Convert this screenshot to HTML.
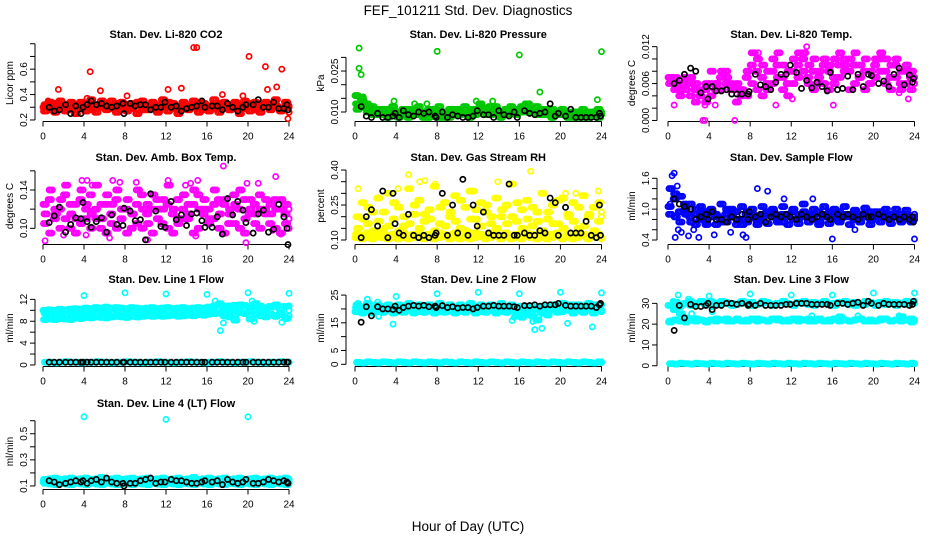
<!DOCTYPE html>
<html><head><meta charset="utf-8">
<style>
html,body{margin:0;padding:0;background:#fff;}
svg{display:block;font-family:"Liberation Sans",sans-serif;}
</style></head>
<body>
<svg id="chart" width="936" height="540" viewBox="0 0 936 540" xmlns="http://www.w3.org/2000/svg">
<rect width="936" height="540" fill="#fff"/>
<text x="468" y="15" font-size="13.5" text-anchor="middle">FEF_101211  Std. Dev. Diagnostics</text>
<text x="468" y="531" font-size="13.5" text-anchor="middle">Hour of Day (UTC)</text>
</svg>
<script>
// ---- data ----
const blackHours=[0.6,1.1,1.6,2.2,2.7,3.2,3.7,3.9,4.3,4.7,5.2,5.7,6.2,6.7,7.2,7.8,7.9,8.5,9.0,9.5,10.0,10.5,11.0,11.5,11.9,12.5,13.0,13.5,14.0,14.5,15.0,15.5,15.8,16.5,17.0,17.5,18.0,18.5,19.0,19.5,19.8,20.5,21.0,21.5,22.0,22.5,23.0,23.5,23.8,23.9];

const co2A=[0.30,0.31,0.29,0.32,0.30,0.28,0.31,0.33,0.30,0.29,0.31,0.30,0.32,0.29,0.30,0.31,0.28,0.30,0.32,0.31,0.29,0.30,0.31,0.33,0.30,0.29,0.30,0.32,0.31,0.30,0.29,0.31,0.30,0.32,0.30,0.29,0.31,0.30,0.28,0.31,0.32,0.30,0.29,0.31,0.30,0.32,0.29,0.30,0.31];
const co2B=[0.27,0.34,0.26,0.35,0.27,0.33,0.25,0.34,0.27,0.36,0.26,0.33,0.28,0.35,0.26,0.34,0.27,0.33,0.25,0.35,0.28,0.34,0.26,0.36,0.27,0.33,0.25,0.34,0.28,0.35,0.26,0.33,0.27,0.36,0.26,0.34,0.28,0.33,0.25,0.35,0.27,0.34,0.26,0.33,0.28,0.36,0.27,0.34,0.26];
const co2C=[0.32,0.28,0.33,0.29,0.31,0.34,0.28,0.30,0.33,0.28,0.32,0.35,0.29,0.31,0.33,0.28,0.32,0.29,0.34,0.28,0.31,0.33,0.28,0.30,0.34,0.31,0.28,0.33,0.29,0.32,0.34,0.28,0.31,0.29,0.33,0.30,0.28,0.34,0.31,0.29,0.33,0.28,0.32,0.34,0.29,0.31,0.28,0.33,0.30];
const co2OutH=[1.5,4.6,5.6,14.7,15.0,20.1,21.7,21.9,22.8,23.3,23.9,8.2,12.2,13.5,17.5,19.5,0.5,4.3];
const co2OutV=[0.44,0.58,0.43,0.77,0.77,0.70,0.62,0.44,0.46,0.60,0.21,0.39,0.44,0.45,0.40,0.39,0.35,0.37];
const co2Black=[0.30,0.27,0.28,0.32,0.25,0.31,0.25,0.30,0.32,0.35,0.32,0.33,0.31,0.30,0.31,0.33,0.25,0.33,0.31,0.32,0.32,0.28,0.30,0.30,0.34,0.30,0.31,0.27,0.29,0.30,0.31,0.35,0.30,0.31,0.31,0.28,0.33,0.30,0.27,0.30,0.32,0.32,0.36,0.30,0.30,0.34,0.29,0.29,0.32,0.28];

const presA=[0.016,0.015,0.013,0.011,0.010,0.009,0.010,0.009,0.010,0.009,0.011,0.009,0.010,0.009,0.008,0.010,0.009,0.008,0.010,0.009,0.011,0.010,0.009,0.010,0.011,0.010,0.012,0.010,0.009,0.010,0.011,0.010,0.010,0.011,0.012,0.010,0.011,0.010,0.009,0.010,0.009,0.010,0.009,0.008,0.009,0.010,0.009,0.010,0.009];
const presB=[0.013,0.012,0.011,0.012,0.009,0.011,0.008,0.012,0.009,0.011,0.008,0.010,0.012,0.008,0.011,0.009,0.012,0.010,0.008,0.011,0.009,0.012,0.008,0.011,0.013,0.009,0.010,0.012,0.008,0.011,0.012,0.009,0.011,0.013,0.010,0.012,0.009,0.011,0.008,0.010,0.011,0.009,0.008,0.010,0.011,0.008,0.009,0.011,0.010];
const presC=[0.011,0.014,0.010,0.009,0.011,0.010,0.011,0.010,0.008,0.010,0.009,0.011,0.009,0.010,0.009,0.011,0.008,0.009,0.011,0.010,0.009,0.010,0.011,0.009,0.012,0.011,0.009,0.011,0.010,0.009,0.010,0.011,0.012,0.010,0.011,0.009,0.010,0.009,0.011,0.009,0.010,0.008,0.010,0.009,0.008,0.009,0.010,0.008,0.009];
const presOutH=[0.4,8.0,16.0,24.0,0.4,0.6,3.8,5.8,7.0,13.4,18.0,23.6,11.8,17.0,0.2,0.8];
const presOutV=[0.0334,0.0322,0.0309,0.0321,0.026,0.0237,0.014,0.013,0.013,0.014,0.0173,0.0145,0.014,0.013,0.016,0.0155];
const presBlack=[0.012,0.0085,0.008,0.0095,0.008,0.008,0.0085,0.0095,0.008,0.0105,0.009,0.0085,0.010,0.0095,0.010,0.0085,0.008,0.010,0.008,0.009,0.0085,0.008,0.008,0.0085,0.0105,0.009,0.009,0.008,0.0105,0.009,0.0085,0.010,0.008,0.0105,0.0095,0.009,0.0095,0.010,0.013,0.0085,0.0095,0.0085,0.011,0.008,0.008,0.008,0.008,0.008,0.0095,0.0085];

const tempA=[0.007,0.006,0.005,0.007,0.006,0.005,0.004,0.005,0.006,0.005,0.007,0.008,0.006,0.005,0.004,0.007,0.009,0.008,0.007,0.006,0.008,0.009,0.007,0.006,0.008,0.009,0.010,0.007,0.008,0.006,0.009,0.008,0.007,0.009,0.010,0.008,0.009,0.007,0.008,0.006,0.009,0.010,0.008,0.007,0.009,0.006,0.008,0.007,0.007];
const tempB=[0.006,0.005,0.004,0.006,0.004,0.003,0.005,0.003,0.004,0.006,0.005,0.006,0.005,0.003,0.005,0.004,0.006,0.005,0.004,0.005,0.006,0.007,0.005,0.004,0.006,0.007,0.008,0.006,0.005,0.007,0.006,0.005,0.006,0.007,0.008,0.005,0.006,0.007,0.005,0.006,0.007,0.008,0.006,0.005,0.007,0.005,0.006,0.005,0.006];
const tempC=[0.007,0.007,0.006,0.005,0.007,0.006,0.005,0.006,0.008,0.006,0.008,0.007,0.005,0.006,0.005,0.008,0.011,0.010,0.009,0.008,0.010,0.011,0.009,0.008,0.010,0.011,0.011,0.009,0.010,0.008,0.010,0.009,0.010,0.011,0.009,0.010,0.011,0.009,0.010,0.008,0.010,0.011,0.010,0.009,0.010,0.008,0.009,0.008,0.007];
const tempOutH=[3.4,3.6,6.5,0.6,3.6,4.6,10.5,12.1,16.1,23.4,22.5,13.5,8.5,8.8];
const tempOutV=[0,0,0,0.0025,0.0025,0.0025,0.0025,0.0035,0.0025,0.0035,0.0045,0.012,0.011,0.011];
const tempBlack=[0.006,0.0065,0.0075,0.0085,0.008,0.0045,0.0055,0.0035,0.0055,0.0048,0.0048,0.005,0.0043,0.0043,0.0043,0.0043,0.0047,0.0075,0.0058,0.0055,0.0050,0.0062,0.0075,0.0075,0.009,0.0078,0.0052,0.0065,0.0053,0.0062,0.0055,0.0048,0.0078,0.005,0.0052,0.0072,0.005,0.0075,0.0055,0.0075,0.0073,0.006,0.0064,0.0055,0.0075,0.0085,0.0058,0.0074,0.0062,0.0068];

const boxA=[0.125,0.13,0.11,0.12,0.135,0.10,0.125,0.13,0.11,0.135,0.12,0.10,0.125,0.115,0.13,0.11,0.12,0.10,0.125,0.135,0.115,0.12,0.13,0.105,0.125,0.115,0.13,0.12,0.11,0.125,0.135,0.115,0.12,0.11,0.13,0.125,0.105,0.135,0.12,0.13,0.115,0.125,0.135,0.12,0.105,0.13,0.12,0.115,0.11];
const boxB=[0.105,0.095,0.12,0.10,0.11,0.125,0.095,0.105,0.12,0.10,0.11,0.125,0.095,0.105,0.10,0.12,0.095,0.115,0.105,0.10,0.125,0.095,0.11,0.12,0.10,0.095,0.105,0.11,0.125,0.095,0.10,0.12,0.105,0.125,0.10,0.095,0.115,0.105,0.10,0.095,0.12,0.105,0.10,0.115,0.125,0.10,0.095,0.105,0.10];
const boxC=[0.115,0.14,0.115,0.13,0.145,0.115,0.11,0.14,0.125,0.115,0.145,0.11,0.135,0.125,0.14,0.12,0.13,0.115,0.14,0.12,0.105,0.135,0.12,0.13,0.145,0.12,0.11,0.135,0.115,0.14,0.12,0.13,0.11,0.14,0.115,0.13,0.12,0.125,0.14,0.11,0.13,0.115,0.12,0.13,0.115,0.12,0.13,0.125,0.12];
const boxOutH=[3.8,4.3,4.8,6.8,7.5,9.1,12.2,13.9,14.4,15.1,17.6,19.9,21.0,22.7,0.2,2.0,4.2,6.5,10.2,14.9,19.8,22.4,23.2,24.0];
const boxOutV=[0.15,0.15,0.145,0.15,0.148,0.148,0.15,0.145,0.147,0.150,0.165,0.147,0.147,0.154,0.087,0.093,0.093,0.09,0.088,0.092,0.085,0.098,0.094,0.10];
const boxBlack=[0.106,0.113,0.122,0.096,0.104,0.111,0.110,0.127,0.107,0.101,0.107,0.111,0.096,0.114,0.104,0.103,0.121,0.118,0.108,0.109,0.088,0.136,0.118,0.102,0.101,0.128,0.109,0.114,0.103,0.115,0.116,0.108,0.101,0.101,0.112,0.094,0.131,0.114,0.128,0.119,0.106,0.095,0.115,0.119,0.096,0.099,0.125,0.112,0.100,0.083];

const rhA=[0.11,0.12,0.11,0.12,0.115,0.11,0.12,0.11,0.125,0.11,0.12,0.11,0.115,0.12,0.11,0.12,0.11,0.115,0.12,0.11,0.125,0.11,0.12,0.11,0.115,0.12,0.11,0.12,0.11,0.115,0.12,0.11,0.12,0.115,0.11,0.12,0.11,0.125,0.11,0.12,0.11,0.115,0.12,0.11,0.12,0.11,0.115,0.12,0.11];
const rhB=[0.125,0.105,0.13,0.105,0.125,0.13,0.105,0.125,0.105,0.13,0.105,0.125,0.13,0.105,0.125,0.105,0.13,0.125,0.105,0.13,0.105,0.125,0.105,0.13,0.125,0.105,0.13,0.125,0.105,0.13,0.105,0.125,0.105,0.13,0.125,0.105,0.13,0.105,0.125,0.13,0.105,0.125,0.105,0.13,0.125,0.105,0.13,0.125,0.105];
const rhC=[0.20,0.26,0.17,0.22,0.28,0.15,0.30,0.19,0.24,0.16,0.32,0.21,0.27,0.18,0.23,0.33,0.17,0.26,0.20,0.29,0.15,0.24,0.31,0.19,0.26,0.22,0.17,0.28,0.20,0.25,0.34,0.18,0.23,0.27,0.16,0.22,0.30,0.19,0.25,0.17,0.28,0.21,0.26,0.15,0.29,0.20,0.24,0.18,0.22];
const rhD=[0.15,0.19,0.24,0.14,0.18,0.22,0.16,0.26,0.14,0.20,0.17,0.25,0.15,0.21,0.19,0.14,0.24,0.16,0.22,0.18,0.27,0.14,0.19,0.23,0.16,0.25,0.20,0.15,0.23,0.17,0.20,0.26,0.15,0.19,0.24,0.18,0.14,0.22,0.17,0.27,0.15,0.20,0.18,0.24,0.16,0.21,0.14,0.26,0.20];
const rhOutH=[0.3,4.2,5.2,6.3,6.8,7.8,11.6,13.9,17.1,23.7,20.5,21.5];
const rhOutV=[0.32,0.32,0.38,0.35,0.355,0.34,0.31,0.35,0.395,0.31,0.30,0.30];
const rhBlack=[0.11,0.20,0.23,0.16,0.31,0.11,0.30,0.17,0.13,0.12,0.21,0.12,0.11,0.12,0.11,0.12,0.13,0.30,0.12,0.25,0.13,0.36,0.12,0.25,0.16,0.22,0.13,0.12,0.12,0.12,0.34,0.12,0.12,0.13,0.12,0.12,0.14,0.13,0.28,0.26,0.12,0.24,0.13,0.13,0.13,0.18,0.12,0.11,0.25,0.12];

const flowA=[1.05,1.2,0.95,1.1,0.85,0.9,0.8,0.95,0.85,0.9,0.8,0.9,0.85,0.95,0.8,0.9,0.85,0.8,0.9,0.95,0.85,0.8,0.9,0.85,0.95,0.8,0.85,0.9,0.8,0.95,0.85,0.9,0.8,0.95,0.85,0.9,0.8,0.85,0.9,0.95,0.8,0.85,0.9,0.8,0.85,0.9,0.8,0.85,0.9];
const flowB=[0.9,1.3,0.75,1.0,1.1,0.7,1.05,0.75,1.0,0.7,1.1,0.75,1.0,0.7,1.05,0.75,1.0,0.7,1.05,0.72,1.0,0.75,1.05,0.7,1.0,0.72,1.1,0.75,1.0,0.7,1.05,0.72,1.0,0.75,1.05,0.7,0.98,0.75,1.02,0.7,0.95,0.75,1.0,0.72,1.0,0.75,0.98,0.75,0.8];
const flowC=[1.4,0.85,1.25,0.9,0.75,1.0,0.9,0.7,0.95,0.85,0.75,1.0,0.9,0.8,0.7,0.95,0.9,0.75,0.85,0.9,0.95,0.85,0.75,0.9,0.8,0.9,0.95,0.85,0.9,0.75,0.9,0.95,0.85,0.8,0.9,0.85,0.95,0.9,0.85,0.8,0.9,0.95,0.85,0.9,0.85,0.8,0.9,0.85,0.85];
const flowOutH=[0.4,0.6,1.0,1.3,0.7,2.0,3.0,2.5,4.5,6.1,7.3,8.7,9.7,16.0,24.0,11.3,14.1,18.2,7.6,0.2,0.9];
const flowOutV=[1.65,1.7,0.6,0.55,0.45,0.48,0.45,0.6,0.5,0.55,0.5,1.4,1.35,0.42,0.42,1.2,1.2,0.6,0.45,1.1,1.45];
const flowBlack=[1.2,1.1,1.05,1.0,0.8,0.85,0.9,0.8,0.95,0.8,0.8,0.75,0.85,0.8,0.9,0.8,0.95,0.85,0.9,0.75,0.85,0.9,0.85,0.9,0.85,0.8,0.9,0.85,0.8,0.85,0.9,0.85,0.8,0.9,0.85,0.9,0.85,0.8,0.9,0.85,0.85,0.9,0.85,0.8,0.85,0.8,0.85,0.8,0.85,0.75];

const l1A=[10.0,10.1,10.0,10.2,10.1,10.2,10.3,10.2,10.4,10.3,10.5,10.4,10.6,10.4,10.5,10.4,10.3,10.5,10.4,10.3,10.4,10.5,10.3,10.4,10.5,10.3,10.4,10.5,10.3,10.4,10.5,10.4,10.6,10.5,11.0,10.2,10.8,10.9,10.4,10.9,10.5,10.6,10.8,10.3,10.7,10.9,10.3,10.7,10.8];
const l1B=[8.3,8.4,8.3,8.5,8.4,8.3,8.6,8.5,8.7,8.6,8.8,8.7,8.6,8.8,8.9,8.8,8.7,8.9,8.8,8.9,9.0,8.9,9.0,8.9,9.0,9.1,8.9,9.0,9.1,9.0,9.2,9.1,9.3,9.4,9.5,9.0,8.8,9.3,9.6,9.4,9.8,9.2,9.0,9.5,9.3,8.9,9.4,8.6,9.0];
const l1C=[9.5,9.0,9.6,8.9,9.2,9.7,9.1,9.4,9.8,9.2,9.5,9.9,9.3,9.6,9.1,9.7,9.4,9.9,9.2,9.6,9.3,9.8,9.5,9.4,9.7,9.3,9.6,9.9,9.4,9.7,9.3,9.8,10.5,10.8,11.2,9.8,10.2,8.2,11.0,9.5,8.4,11.2,9.7,8.8,10.6,11.0,9.2,8.5,10.0];
const l1D=[0.5,0.5,0.4,0.5,0.6,0.5,0.5,0.4,0.5,0.5,0.6,0.5,0.5,0.4,0.5,0.5,0.6,0.5,0.5,0.4,0.5,0.5,0.6,0.5,0.5,0.4,0.5,0.5,0.6,0.5,0.5,0.4,0.5,0.5,0.6,0.5,0.5,0.4,0.5,0.5,0.6,0.5,0.5,0.4,0.5,0.5,0.6,0.5,0.5];
const l1OutH=[4,8,12,16,20,24,17.3,17.6,20.6,23.3,16.8,20.4];
const l1OutV=[12.7,13.2,13.0,12.9,13.2,13.1,6.3,7.7,8.0,7.8,11.7,11.7];
const l1Black=[0.5,0.5,0.5,0.5,0.5,0.5,0.5,0.5,0.5,0.5,0.5,0.5,0.5,0.5,0.5,0.5,0.5,0.5,0.5,0.5,0.5,0.5,0.5,0.5,0.5,0.5,0.5,0.5,0.5,0.5,0.5,0.5,0.5,0.5,0.5,0.5,0.5,0.5,0.5,0.5,0.5,0.5,0.5,0.5,0.5,0.5,0.5,0.5,0.5,0.5];

const l2A=[19,20.5,19.5,20,19,20.5,19.5,20,19,20.5,19.5,20,19,20.5,19.5,20,19,20.5,19.5,20,19,20.5,19.5,20,19,20.5,19.5,20,19,20.5,19.5,20,19,20.5,18.5,20,19,20.5,19.5,20,19,20.5,19.5,20,19,20.5,19.5,20,19.5];
const l2B=[20.5,19,21,19.5,21,19.5,21,20,21,19.5,21,20,21,19.5,21,20,21,19.5,21,20,21,19.5,21,20,21,19.5,21.5,20,21,19.5,21,20,21,19.5,21,20,21,19.5,21.5,20,21,19.5,21.5,20,21,20,21.5,20,21.5];
const l2C=[21.5,18.5,22,18.5,21.5,18.8,21.5,18.5,21.5,18.8,22,18.5,21.5,18.8,21.5,18.5,22,18.8,21.5,18.5,21.5,18.8,22,18.5,21.5,18.8,21.5,18.5,22,18.8,21.5,17.5,17,18.5,17.5,16,18.5,17.8,21.5,18.8,22,21.5,18.5,21.5,18.8,22,18.5,21.5,19];
const l2D=[0.7,0.5,0.9,0.7,0.5,0.9,0.7,0.5,0.9,0.7,0.5,0.9,0.7,0.5,0.9,0.7,0.5,0.9,0.7,0.5,0.9,0.7,0.5,0.9,0.7,0.5,0.9,0.7,0.5,0.9,0.7,0.5,0.9,0.7,0.5,0.9,0.7,0.5,0.9,0.7,0.5,0.9,0.7,0.5,0.9,0.7,0.5,0.9,0.7];
const l2OutH=[0.3,1.2,2.2,2.3,3.7,4,8,12,16,20,24,15.3,15.5,17.3,17.5,18.2,17.9,20.7,23.1];
const l2OutV=[22,23.5,22.5,17.3,14.5,24.5,25.5,26,25.5,26,25.8,15.8,17,15.5,12.5,13,17,14.8,13.5];
const l2Black=[15.2,20.8,17.5,20.8,20,20,19.8,21,19.5,20.5,21,21.3,21,21.3,20.8,21,20.5,21.2,20.5,20.8,20.3,20.5,20.5,20,20.5,21,21,21.3,21,21,21,20.8,20.5,21.2,21.2,21.5,21,21.5,21.5,21.5,22,21.3,21,21,21,21,21,20.5,21.5,22];

const l3A=[29,27,28.5,30,31,29.5,30.5,29.5,31,30,29.5,30.5,30,29.5,30.5,30,30.5,29.5,30,30.5,29.5,30,30.5,30,29.5,30.5,30,29.5,30.5,30,30.5,29.5,30,30.5,30,29.5,30.5,30,29.5,30.5,30,30.5,29.5,30,30.5,30,29.5,30.5,30];
const l3B=[21,22,21.5,23,22,21.5,22,21.5,22,21.5,22,22.5,21.5,22,21.5,22,22.5,21.5,22,21.5,22.5,22,21.5,22,22.5,21.5,22,22.5,21.5,22,21.5,22,22.5,21.5,22,21.5,22,22.5,21.5,22,21.5,22,22.5,21.5,22,21.5,22,22.5,22];
const l3C=[21.5,30.5,25,21,29,22.5,31,21,29,22.5,31,21.5,29,22.5,31,21.5,29,22.5,31,21.5,29,22.5,31,21.5,29,22.5,31,21.5,29,22.5,31,21.5,29,23.5,31,21.5,29,22.5,31,21.5,29,22.5,31,21.5,29,23.5,31,21,31];
const l3D=[1.0,0.8,1.2,1.0,0.8,1.2,1.0,0.8,1.2,1.0,0.8,1.2,1.0,0.8,1.2,1.0,0.8,1.2,1.0,0.8,1.2,1.0,0.8,1.2,1.0,0.8,1.2,1.0,0.8,1.2,1.0,0.8,1.2,1.0,0.8,1.2,1.0,0.8,1.2,1.0,0.8,1.2,1.0,0.8,1.2,1.0,0.8,1.2,1.0];
const l3OutH=[0.5,0.7,1.0,2.0,2.3,4,4.3,8,12,16,20,24,14,18.5,22.5];
const l3OutV=[31,27,34,32,25,33.5,26,34.5,34,34,35,35,24,24,24];
const l3Black=[17,29,23,29.5,28.5,28.5,29,30,27,29,29,30,30,29.5,30,29,29.5,29,30,29,29,29,29,29.5,29.5,30,30,30,29.5,29.5,29.5,29.5,29,30,30,29.5,30,30.5,29,31,30,29,30,29.5,29.5,29.5,29.5,29,29.5,31];

const l4A=[0.13,0.14,0.13,0.135,0.14,0.13,0.135,0.13,0.14,0.135,0.13,0.14,0.13,0.135,0.14,0.13,0.135,0.13,0.14,0.135,0.13,0.14,0.13,0.135,0.14,0.13,0.135,0.13,0.14,0.135,0.13,0.14,0.13,0.135,0.14,0.13,0.135,0.13,0.14,0.135,0.13,0.14,0.13,0.135,0.14,0.13,0.135,0.13,0.14];
const l4B=[0.15,0.155,0.16,0.15,0.155,0.16,0.15,0.155,0.16,0.15,0.155,0.165,0.15,0.155,0.16,0.15,0.155,0.16,0.15,0.155,0.16,0.15,0.155,0.16,0.15,0.155,0.16,0.15,0.155,0.165,0.15,0.155,0.16,0.15,0.155,0.16,0.15,0.155,0.16,0.15,0.155,0.16,0.15,0.155,0.16,0.15,0.155,0.16,0.15];
const l4C=[0.12,0.115,0.11,0.12,0.115,0.11,0.12,0.115,0.11,0.12,0.115,0.11,0.12,0.115,0.11,0.12,0.115,0.11,0.12,0.115,0.11,0.12,0.115,0.11,0.12,0.115,0.11,0.12,0.115,0.11,0.12,0.115,0.11,0.12,0.115,0.11,0.12,0.115,0.11,0.12,0.115,0.11,0.12,0.115,0.11,0.12,0.115,0.11,0.12];
const l4OutH=[4,12,20];
const l4OutV=[0.63,0.61,0.63];
const l4Black=[0.14,0.13,0.11,0.12,0.13,0.14,0.13,0.14,0.12,0.14,0.15,0.13,0.16,0.13,0.12,0.12,0.10,0.12,0.12,0.14,0.15,0.16,0.12,0.13,0.13,0.15,0.14,0.14,0.13,0.12,0.12,0.13,0.14,0.13,0.14,0.11,0.15,0.13,0.12,0.13,0.15,0.12,0.12,0.13,0.15,0.14,0.13,0.14,0.13,0.12];

const tickP1=[0.2,0.3,0.4,0.5,0.6,0.7,0.8], labP1=["0.2","0.4","0.6"];
const tickP2=[0.010,0.015,0.020,0.025,0.030], labP2=["0.010","0.025"];
const tickP3=[0,0.002,0.004,0.006,0.008,0.010,0.012], labP3=["0.000","0.006","0.012"];
const tickP4=[0.10,0.12,0.14,0.16], labP4=["0.10","0.14"];
const tickP5=[0.10,0.15,0.20,0.25,0.30,0.35,0.40], labP5=["0.10","0.25","0.40"];
const tickP6=[0.4,0.6,0.8,1.0,1.2,1.4,1.6], labP6=["0.4","1.0","1.6"];
const tickP7=[0,2,4,6,8,10,12], labP7=["0","4","8","12"];
const tickP8=[0,5,10,15,20,25], labP8=["0","5","15","25"];
const tickP9=[0,10,20,30], labP9=["0","10","20","30"];
const tickP10=[0.1,0.2,0.3,0.4,0.5,0.6], labP10=["0.1","0.3","0.5"];
const xTicks=[0,4,8,12,16,20,24];

// ---- layout ----
const colX0=[43,355,668], colX1=[289,601.5,914.5], colAxis=[35,346,657];
const rowTop=[44,167,289,413], rowBot=[122,245,367,490];

const panels=[
 {name:"co2",title:"Stan. Dev. Li-820 CO2",ylab:"Licor ppm",c:0,r:0,lim:[0.184,0.798],ticks:tickP1,labs:labP1,color:"#ff0000",series:[co2A,co2B,co2C],oh:co2OutH,ov:co2OutV,black:co2Black},
 {name:"pressure",title:"Stan. Dev. Li-820 Pressure",ylab:"kPa",c:1,r:0,lim:[0.00634,0.0349],ticks:tickP2,labs:labP2,color:"#00c800",series:[presA,presB,presC],oh:presOutH,ov:presOutV,black:presBlack},
 {name:"temp",title:"Stan. Dev. Li-820 Temp.",ylab:"degrees C",c:2,r:0,lim:[-0.00025,0.01243],ticks:tickP3,labs:labP3,color:"#ff00ff",series:[tempA,tempB,tempC],oh:tempOutH,ov:tempOutV,black:tempBlack},
 {name:"amb-box-temp",title:"Stan. Dev. Amb. Box Temp.",ylab:"degrees C",c:0,r:1,lim:[0.0826,0.164],ticks:tickP4,labs:labP4,color:"#ff00ff",series:[boxA,boxB,boxC],oh:boxOutH,ov:boxOutV,black:boxBlack},
 {name:"gas-rh",title:"Stan. Dev. Gas Stream RH",ylab:"percent",c:1,r:1,lim:[0.0786,0.413],ticks:tickP5,labs:labP5,color:"#ffff00",series:[rhA,rhB,rhC,rhD],oh:rhOutH,ov:rhOutV,black:rhBlack},
 {name:"sample-flow",title:"Stan. Dev. Sample Flow",ylab:"ml/min",c:2,r:1,lim:[0.303,1.82],ticks:tickP6,labs:labP6,color:"#0000ff",series:[flowA,flowB,flowC],oh:flowOutH,ov:flowOutV,black:flowBlack},
 {name:"line1-flow",title:"Stan. Dev. Line 1 Flow",ylab:"ml/min",c:0,r:2,lim:[-0.37,13.9],ticks:tickP7,labs:labP7,color:"#00ffff",series:[l1A,l1B,l1C,l1D],oh:l1OutH,ov:l1OutV,black:l1Black},
 {name:"line2-flow",title:"Stan. Dev. Line 2 Flow",ylab:"ml/min",c:1,r:2,lim:[-0.97,27.2],ticks:tickP8,labs:labP8,color:"#00ffff",series:[l2A,l2B,l2C,l2D],oh:l2OutH,ov:l2OutV,black:l2Black},
 {name:"line3-flow",title:"Stan. Dev. Line 3 Flow",ylab:"ml/min",c:2,r:2,lim:[-0.6,36.9],ticks:tickP9,labs:labP9,color:"#00ffff",series:[l3A,l3B,l3C,l3D],oh:l3OutH,ov:l3OutV,black:l3Black},
 {name:"line4-flow",title:"Stan. Dev. Line 4 (LT) Flow",ylab:"ml/min",c:0,r:3,lim:[0.069,0.659],ticks:tickP10,labs:labP10,color:"#00ffff",series:[l4A,l4B,l4C],oh:l4OutH,ov:l4OutV,black:l4Black}
];

const NS="http://www.w3.org/2000/svg";
const svg=document.getElementById("chart");
function el(tag,attrs,parent){const e=document.createElementNS(NS,tag);for(const k in attrs)e.setAttribute(k,attrs[k]);parent.appendChild(e);return e;}

panels.forEach(p=>{
  const X0=colX0[p.c],X1=colX1[p.c],ax=colAxis[p.c],top=rowTop[p.r],bot=rowBot[p.r];
  const xs=h=>X0+h/24*(X1-X0);
  const ys=v=>top+(p.lim[1]-v)/(p.lim[1]-p.lim[0])*(bot-top);
  const g=el("g",{},svg);
  
  
  const t=el("text",{x:(X0+X1)/2,y:top-6,"font-size":"11","font-weight":"bold","text-anchor":"middle"},g);
  t.textContent=p.title;
  
  
  const yT=p.ticks;
  const yl=el("line",{x1:ax,x2:ax,y1:ys(yT[0]),y2:ys(yT[yT.length-1]),stroke:"#000","stroke-width":"1"},g);
  
  
  yT.forEach(v=>{
    const tk=el("line",{x1:ax-5,x2:ax,y1:ys(v),y2:ys(v),stroke:"#000","stroke-width":"1"},g);
    
    
  });
  p.labs.forEach(s=>{
    const v=parseFloat(s);
    const lt=el("text",{x:0,y:0,"font-size":"10","text-anchor":"middle",transform:`translate(${ax-8},${ys(v)}) rotate(-90)`},g);
    lt.textContent=s;
    
    
  });
  const yt=el("text",{x:0,y:0,"font-size":"10","text-anchor":"middle",transform:`translate(${ax-22},${(top+bot)/2}) rotate(-90)`},g);
  yt.textContent=p.ylab;
  
  
  const xa=bot-0.5;
  const xl=el("line",{x1:xs(0),x2:xs(24),y1:xa,y2:xa,stroke:"#000","stroke-width":"1"},g);
  
  
  xTicks.forEach(h=>{
    const tk=el("line",{x1:xs(h),x2:xs(h),y1:xa,y2:xa+5,stroke:"#000","stroke-width":"1"},g);
    
    
    const lb=el("text",{x:xs(h),y:xa+18,"font-size":"10","text-anchor":"middle"},g);
    lb.textContent=String(h);
    
    
  });
  // colored series: each half-hour value represents repeated 10-min samples
  const reps=[0,0.16,0.32];
  p.series.forEach((arr,si)=>{
    arr.forEach((v,i)=>{
      reps.forEach(o=>{
        const h=Math.min(24,i*0.5+si*0.05+o);
        const c=el("circle",{cx:xs(h),cy:ys(v),r:"2.6",fill:"none",stroke:p.color,"stroke-width":"1.7"},g);
        
        
      });
    });
  });
  p.oh.forEach((h,i)=>{
    const c=el("circle",{cx:xs(h),cy:ys(p.ov[i]),r:"2.6",fill:"none",stroke:p.color,"stroke-width":"1.7"},g);
    
    
  });
  p.black.forEach((v,i)=>{
    const c=el("circle",{cx:xs(blackHours[i]),cy:ys(v),r:"2.6",fill:"none",stroke:"#000","stroke-width":"1.7"},g);
    
    
  });
});
</script>
</body></html>
